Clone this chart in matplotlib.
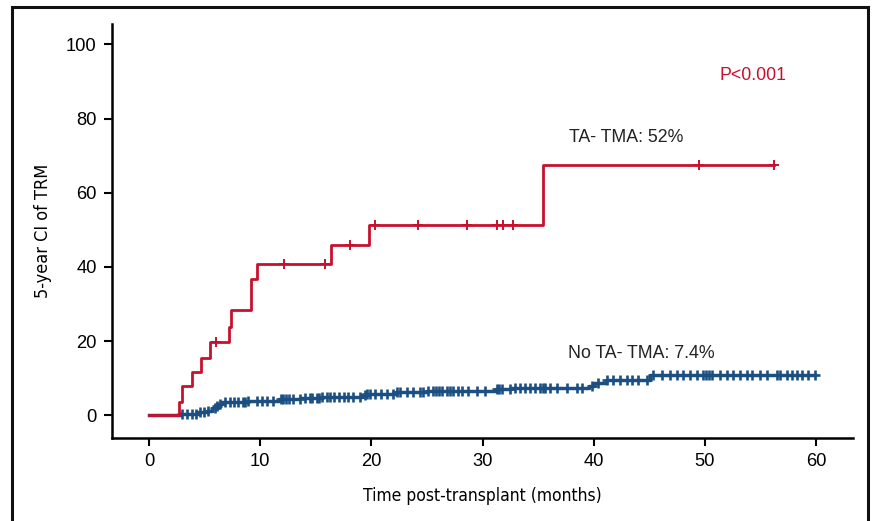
import numpy as np
import matplotlib
matplotlib.use('Agg')
import matplotlib.pyplot as plt
from matplotlib.patches import Rectangle

# TA-TMA group (red): step times / cumulative incidence levels (%)
ta_times = [0, 2.7, 3.0, 3.85, 4.7, 5.5, 7.2, 7.4, 9.2, 9.7, 16.4, 19.8, 35.4]
ta_levels = [0, 3.5, 7.8, 11.7, 15.5, 19.8, 23.8, 28.3, 36.7, 40.8, 45.8, 51.3, 67.5]
ta_end = 56.2
ta_censor = [6.0, 12.1, 15.8, 18.1, 20.3, 24.2, 28.6, 31.3, 31.8, 32.7, 49.5, 56.2]

# No TA-TMA group (blue)
no_times = [0, 2.8, 4.4, 5.2, 5.7, 6.0, 6.3, 6.6, 8.8, 11.7, 13.6, 15.5, 19.2,
            19.6, 22.2, 25.0, 31.2, 32.6, 39.6, 40.0, 41.1, 45.1]
no_levels = [0, 0.4, 0.8, 1.3, 2.0, 2.6, 3.1, 3.5, 3.9, 4.3, 4.7, 5.0, 5.5,
             5.9, 6.2, 6.5, 7.0, 7.3, 7.9, 8.8, 9.5, 10.8]
no_end = 59.9
no_censor = [2.94, 3.39, 3.84, 4.2, 4.59, 4.95, 5.34, 5.94, 6.15, 6.39, 6.83,
             7.28, 7.64, 8.03, 8.42, 8.63, 8.93, 9.68, 10.13, 10.58, 11.18,
             11.84, 12.08, 12.32, 12.56, 12.98, 13.58, 14.03, 14.48, 14.63,
             15.08, 15.32, 15.53, 15.98, 16.28, 16.64, 17.11, 17.54, 17.93,
             18.38, 18.97, 19.42, 19.63, 19.87, 20.32, 20.84, 21.37, 21.97,
             22.27, 22.57, 23.17, 23.77, 24.37, 24.67, 25.12, 25.57, 25.81,
             26.05, 26.32, 26.77, 27.07, 27.37, 27.81, 28.12, 28.72, 29.47,
             30.22, 31.27, 31.5, 31.72, 32.46, 32.91, 33.36, 33.81, 34.26,
             34.71, 35.16, 35.4, 35.61, 36.06, 36.66, 37.56, 38.46, 38.91,
             39.81, 40.41, 41.16, 41.76, 42.36, 42.96, 43.41, 44.0, 44.76,
             45.35, 46.1, 46.85, 47.45, 48.05, 48.65, 49.25, 49.85, 50.09,
             50.33, 50.6, 51.35, 51.95, 52.55, 53.15, 53.75, 54.2, 54.95,
             55.55, 56.45, 56.74, 57.35, 57.8, 58.25, 58.7, 59.29, 59.89]

x_ticks = [0, 10, 20, 30, 40, 50, 60]
y_ticks = [0, 20, 40, 60, 80, 100]

red = '#c8102e'
blue = '#1b4f82'

plain = ['Liberation Sans', 'DejaVu Sans']


def level_at(times, levels, t):
    idx = np.searchsorted(times, t, side='right') - 1
    return np.array(levels)[idx]


fig = plt.figure(figsize=(8.72, 5.21), dpi=100)
ax = fig.add_axes([0.1284, 0.1599, 0.8495, 0.7935])

# blue curve
bx = no_times + [no_end]
by = no_levels + [no_levels[-1]]
ax.step(bx, by, where='post', color=blue, lw=2.5, zorder=2)
ax.plot(no_censor, level_at(no_times, no_levels, no_censor), ls='none',
        marker='+', ms=7, mew=1.9, color=blue, zorder=2)

# red curve
rx = ta_times + [ta_end]
ry = ta_levels + [ta_levels[-1]]
ax.step(rx, ry, where='post', color=red, lw=2.0, zorder=3)
ax.plot(ta_censor, level_at(ta_times, ta_levels, ta_censor), ls='none',
        marker='+', ms=7, mew=1.4, color=red, zorder=3)

ax.set_xlim(-3.33, 63.3)
ax.set_ylim(-6.0, 105.4)
ax.set_xticks(x_ticks)
ax.set_yticks(y_ticks)
ax.spines['top'].set_visible(False)
ax.spines['right'].set_visible(False)
for s in ['left', 'bottom']:
    ax.spines[s].set_linewidth(1.8)
ax.tick_params(direction='out', length=6, width=1.5, labelsize=13.2, pad=5)
for lab in ax.get_xticklabels() + ax.get_yticklabels():
    lab.set_family(plain)

ax.set_xlabel('Time post-transplant (months)', family='DejaVu Sans',
              fontstretch='condensed', fontsize=12.5, labelpad=12)
ax.set_ylabel('5-year CI of TRM', family='DejaVu Sans',
              fontstretch='condensed', fontsize=13, labelpad=10)

ax.text(51.3, 91.5, 'P<0.001', color=red, family=plain, fontsize=12.8, va='center')
ax.text(37.8, 74.8, 'TA- TMA: 52%', color='#222222', family=plain, fontsize=12.8, va='center')
ax.text(37.7, 16.8, 'No TA- TMA: 7.4%', color='#222222', family=plain, fontsize=12.8, va='center')

# outer frame of the figure panel
fig.patches.append(Rectangle((0.0134, -0.05), 0.982, 1.036, transform=fig.transFigure,
                             fill=False, edgecolor='#111111', lw=2.2))

fig.savefig('out.png', dpi=100)
